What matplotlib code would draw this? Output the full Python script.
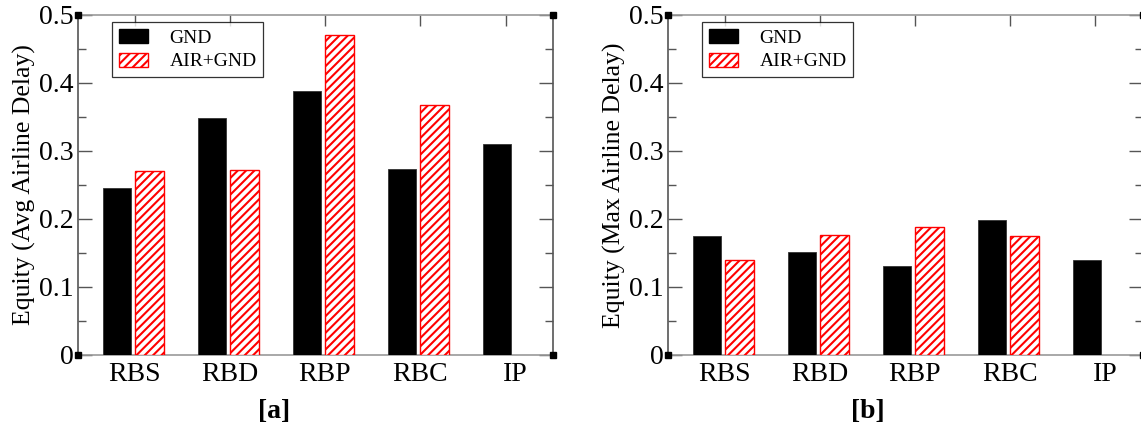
import matplotlib
matplotlib.use("Agg")
import matplotlib.pyplot as plt
import numpy as np
from matplotlib.patches import Patch

plt.rcParams['font.family'] = ['Liberation Serif', 'DejaVu Serif']
plt.rcParams['hatch.linewidth'] = 1.5
plt.rcParams['hatch.color'] = 'red'

categories = ["RBS", "RBD", "RBP", "RBC", "IP"]
gnd_avg = [0.245, 0.349, 0.388, 0.274, 0.311]
airgnd_avg = [0.270, 0.272, 0.470, 0.367]
gnd_max = [0.175, 0.151, 0.131, 0.199, 0.140]
airgnd_max = [0.139, 0.177, 0.188, 0.175]
ylabels = ["Equity (Avg Airline Delay)", "Equity (Max Airline Delay)"]
panel_tags = ["[a]", "[b]"]
top_tick_pos = [1, 2, 3, 4, 4.9]

W, H = 1141, 429
fig = plt.figure(figsize=(W / 100, H / 100), dpi=100)

ax_lefts = [78, 668]
spine_col = '#555555'

for i, (gnd, air) in enumerate([(gnd_avg, airgnd_avg), (gnd_max, airgnd_max)]):
    ax = fig.add_axes([ax_lefts[i] / W, (H - 355) / H, 475 / W, 340 / H])
    x = np.arange(1, len(categories) + 1)
    ax.bar(x - 0.19, gnd, width=0.3, color='black', edgecolor='#333333', linewidth=0.6, zorder=3)
    xa = np.arange(1, len(air) + 1)
    ax.bar(xa + 0.155, air, width=0.3, color='white', edgecolor='red', hatch='////',
           linewidth=1.0, zorder=3)
    ax.set_xlim(0.4, 5.4)
    ax.set_ylim(0, 0.5)
    ax.set_yticks(np.arange(0, 0.51, 0.1))
    ax.set_yticklabels(["0", "0.1", "0.2", "0.3", "0.4", "0.5"])
    ax.set_yticks(np.arange(0.05, 0.5, 0.1), minor=True)
    ax.set_xticks(x)
    ax.set_xticklabels(categories)
    ax.tick_params(axis='y', which='major', direction='in', length=10, width=1.0,
                   color=spine_col, labelsize=20, pad=3, left=True, right=True)
    ax.tick_params(axis='y', which='minor', direction='in', length=6, width=1.0,
                   color=spine_col, left=True, right=True)
    ax.tick_params(axis='x', which='major', direction='in', length=0, labelsize=20, pad=5)
    # top ticks
    sec = ax.secondary_xaxis('top')
    sec.set_xticks(top_tick_pos)
    sec.set_xticklabels([])
    sec.tick_params(direction='in', length=8, width=1.0, color=spine_col)
    sec.spines['top'].set_visible(False)
    ax.set_xticks([1, 2, 3, 4], minor=True)
    ax.tick_params(axis='x', which='minor', direction='in', length=5, width=1.0,
                   color=spine_col, bottom=True)
    for s in ax.spines.values():
        s.set_color(spine_col)
        s.set_linewidth(1.2)
    ax.spines['top'].set_color('#999999')
    ax.spines['bottom'].set_color('#999999')
    ax.set_ylabel(ylabels[i], fontsize=18.5)
    ax.yaxis.set_label_coords(-0.088, 0.5)
    # corner markers
    ax.plot([0, 1, 0, 1], [0, 0, 1, 1], 's', color='black', markersize=5,
            transform=ax.transAxes, clip_on=False, zorder=5)
    handles = [Patch(facecolor='black', edgecolor='black'),
               Patch(facecolor='white', edgecolor='red', hatch='////')]
    leg = ax.legend(handles, ["GND", "AIR+GND"], loc='upper left',
                    bbox_to_anchor=(34 / 475, 1 - 7 / 340), fontsize=14,
                    frameon=True, fancybox=False, edgecolor='black',
                    handlelength=1.5, handleheight=0.75, handletextpad=1.1,
                    borderpad=0.35, labelspacing=0.3, borderaxespad=0)
    leg.get_frame().set_linewidth(0.9)

fig.text(274 / W, 1 - 411 / H, panel_tags[0], ha='center', va='center',
         fontsize=20, fontweight='bold')
fig.text(868 / W, 1 - 411 / H, panel_tags[1], ha='center', va='center',
         fontsize=20, fontweight='bold')

fig.savefig("out.png", dpi=100)
